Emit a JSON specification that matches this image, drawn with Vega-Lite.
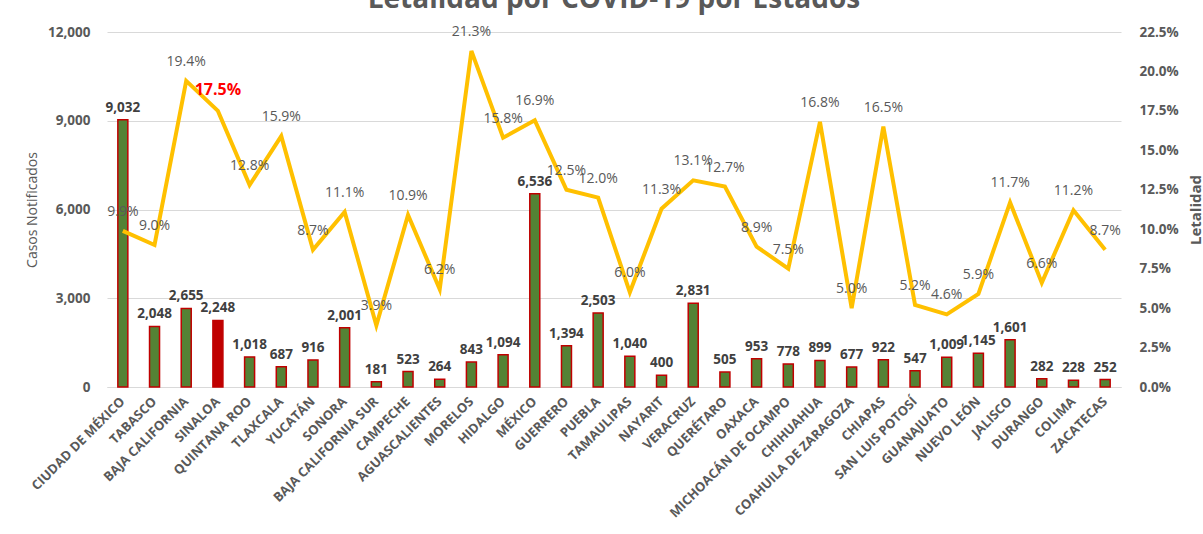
{
  "$schema": "https://vega.github.io/schema/vega-lite/v6.json",
  "width": 1014,
  "height": 355,
  "autosize": "none",
  "padding": {"left": 107, "top": 32, "right": 82, "bottom": 147},
  "background": "white",
  "title": {
    "text": "Letalidad por COVID-19 por Estados",
    "font": "Open Sans",
    "fontSize": 28,
    "fontWeight": "bold",
    "color": "#595959",
    "anchor": "middle",
    "frame": "group",
    "baseline": "alphabetic",
    "offset": 14,
    "dy": 25
  },
  "config": {"view": {"stroke": null}, "font": "Open Sans"},
  "data": {
    "values": [
      {"estado": "CIUDAD DE MÉXICO", "casos": 9032, "letalidad": 0.099},
      {"estado": "TABASCO", "casos": 2048, "letalidad": 0.090},
      {"estado": "BAJA CALIFORNIA", "casos": 2655, "letalidad": 0.194},
      {"estado": "SINALOA", "casos": 2248, "letalidad": 0.175},
      {"estado": "QUINTANA ROO", "casos": 1018, "letalidad": 0.128},
      {"estado": "TLAXCALA", "casos": 687, "letalidad": 0.159},
      {"estado": "YUCATÁN", "casos": 916, "letalidad": 0.087},
      {"estado": "SONORA", "casos": 2001, "letalidad": 0.111},
      {"estado": "BAJA CALIFORNIA SUR", "casos": 181, "letalidad": 0.039},
      {"estado": "CAMPECHE", "casos": 523, "letalidad": 0.109},
      {"estado": "AGUASCALIENTES", "casos": 264, "letalidad": 0.062},
      {"estado": "MORELOS", "casos": 843, "letalidad": 0.213},
      {"estado": "HIDALGO", "casos": 1094, "letalidad": 0.158},
      {"estado": "MÉXICO", "casos": 6536, "letalidad": 0.169},
      {"estado": "GUERRERO", "casos": 1394, "letalidad": 0.125},
      {"estado": "PUEBLA", "casos": 2503, "letalidad": 0.120},
      {"estado": "TAMAULIPAS", "casos": 1040, "letalidad": 0.060},
      {"estado": "NAYARIT", "casos": 400, "letalidad": 0.113},
      {"estado": "VERACRUZ", "casos": 2831, "letalidad": 0.131},
      {"estado": "QUERÉTARO", "casos": 505, "letalidad": 0.127},
      {"estado": "OAXACA", "casos": 953, "letalidad": 0.089},
      {"estado": "MICHOACÁN DE OCAMPO", "casos": 778, "letalidad": 0.075},
      {"estado": "CHIHUAHUA", "casos": 899, "letalidad": 0.168},
      {"estado": "COAHUILA DE ZARAGOZA", "casos": 677, "letalidad": 0.050},
      {"estado": "CHIAPAS", "casos": 922, "letalidad": 0.165},
      {"estado": "SAN LUIS POTOSÍ", "casos": 547, "letalidad": 0.052},
      {"estado": "GUANAJUATO", "casos": 1009, "letalidad": 0.046},
      {"estado": "NUEVO LEÓN", "casos": 1145, "letalidad": 0.059},
      {"estado": "JALISCO", "casos": 1601, "letalidad": 0.117},
      {"estado": "DURANGO", "casos": 282, "letalidad": 0.066},
      {"estado": "COLIMA", "casos": 228, "letalidad": 0.112},
      {"estado": "ZACATECAS", "casos": 252, "letalidad": 0.087}
    ]
  },
  "encoding": {
    "x": {
      "field": "estado",
      "type": "nominal",
      "sort": null,
      "scale": {"paddingInner": 0, "paddingOuter": 0},
      "axis": {
        "title": null,
        "labelAngle": -45,
        "labelAlign": "right",
        "labelBaseline": "middle",
        "labelPadding": 12,
        "labelFont": "Open Sans",
        "labelFontSize": 13,
        "labelFontWeight": "bold",
        "labelColor": "#595959",
        "ticks": false,
        "domainColor": "#d9d9d9",
        "labelOverlap": false
      }
    }
  },
  "layer": [
    {
      "encoding": {
        "y": {
          "field": "casos",
          "type": "quantitative",
          "scale": {"domain": [0, 12000], "nice": false},
          "axis": {
            "title": "Casos Notificados",
            "titleFont": "Open Sans",
            "titleFontSize": 14,
            "titleFontWeight": "normal",
            "titleColor": "#595959",
            "titlePadding": 8,
            "values": [0, 3000, 6000, 9000, 12000],
            "format": ",.0f",
            "labelFont": "Open Sans",
            "labelFontSize": 13.5,
            "labelFontWeight": "bold",
            "labelColor": "#595959",
            "labelPadding": 17,
            "ticks": false,
            "domain": false,
            "grid": true,
            "gridColor": "#d9d9d9",
            "gridWidth": 1
          }
        }
      },
      "layer": [
        {
          "mark": {"type": "bar", "size": 10, "stroke": "#C00000", "strokeWidth": 1.5},
          "encoding": {
            "color": {
              "condition": {"test": "datum.estado === 'SINALOA'", "value": "#C00000"},
              "value": "#548235"
            }
          }
        },
        {
          "mark": {"type": "text", "baseline": "bottom", "dy": -5, "fontWeight": "bold", "fontSize": 13.5, "color": "#404040", "font": "Open Sans"},
          "encoding": {"text": {"field": "casos", "type": "quantitative", "format": ",.0f"}}
        }
      ]
    },
    {
      "encoding": {
        "y": {
          "field": "letalidad",
          "type": "quantitative",
          "scale": {"domain": [0, 0.225], "nice": false},
          "axis": {
            "orient": "right",
            "title": "Letalidad",
            "titleFont": "Open Sans",
            "titleFontSize": 15,
            "titleFontWeight": "bold",
            "titleColor": "#595959",
            "titleAngle": -90,
            "titleBaseline": "top",
            "titlePadding": 10,
            "values": [0, 0.025, 0.05, 0.075, 0.1, 0.125, 0.15, 0.175, 0.2, 0.225],
            "format": ".1%",
            "labelFont": "Open Sans",
            "labelFontSize": 13.5,
            "labelFontWeight": "bold",
            "labelColor": "#595959",
            "labelPadding": 18,
            "ticks": false,
            "domain": false,
            "grid": false
          }
        }
      },
      "layer": [
        {
          "mark": {"type": "line", "color": "#FFC000", "strokeWidth": 4, "strokeJoin": "miter"}
        },
        {
          "transform": [{"filter": "datum.estado !== 'SINALOA'"}],
          "mark": {"type": "text", "baseline": "bottom", "dy": -12, "fontSize": 14, "color": "#595959", "font": "Open Sans"},
          "encoding": {"text": {"field": "letalidad", "type": "quantitative", "format": ".1%"}}
        },
        {
          "transform": [{"filter": "datum.estado === 'SINALOA'"}],
          "mark": {"type": "text", "baseline": "bottom", "dy": -13, "fontSize": 16, "fontWeight": "bold", "color": "#FF0000", "font": "Open Sans"},
          "encoding": {"text": {"field": "letalidad", "type": "quantitative", "format": ".1%"}}
        }
      ]
    }
  ],
  "resolve": {"scale": {"y": "independent"}}
}
